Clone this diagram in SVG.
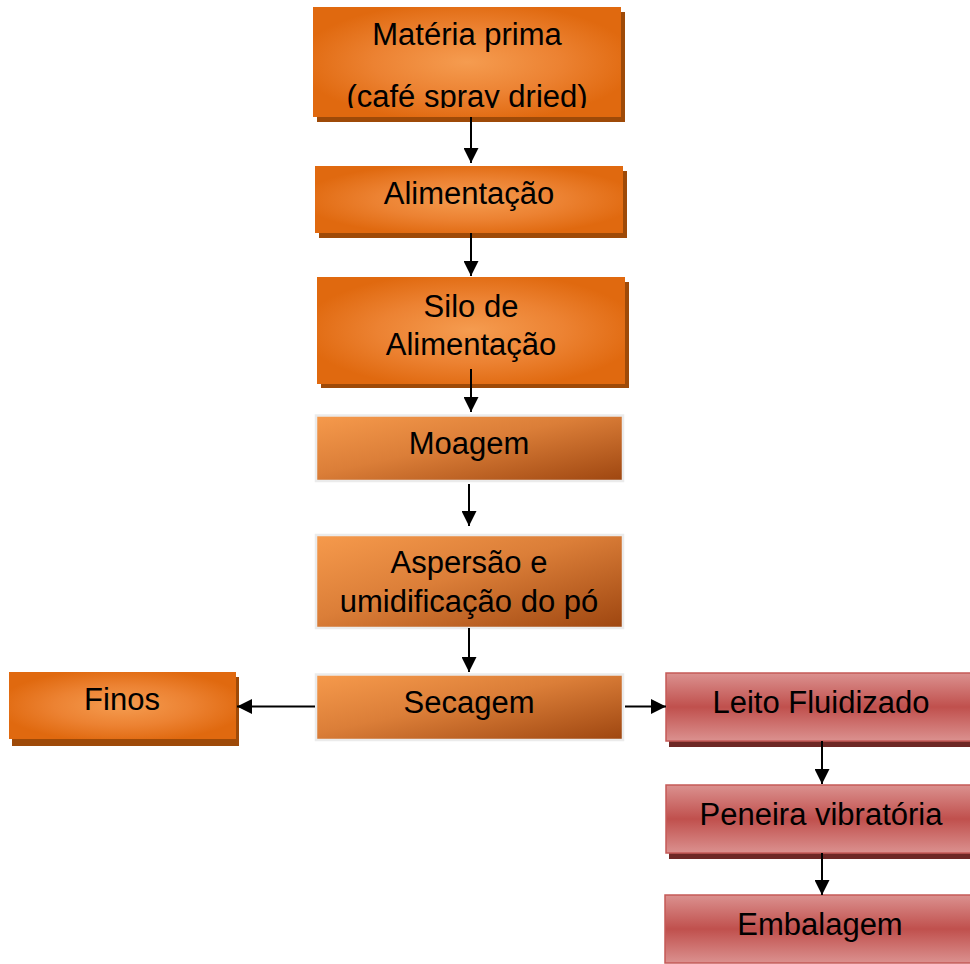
<svg xmlns="http://www.w3.org/2000/svg" width="970" height="964" viewBox="0 0 970 964">
<style>
  text { font-family: "Liberation Sans", Arial, sans-serif; font-size: 31px; fill: #000; text-anchor: middle; }
  .og { fill: url(#orangeRad); }
  .osh { fill: #9E4A08; }
  .br { fill: url(#brownLin); stroke: #EBEBEB; stroke-width: 2.5; }
  .rd { fill: url(#redLin); stroke: #C55A57; stroke-width: 1.5; }
  .rsh { fill: #6E2826; }
  .conn line { stroke: #000; stroke-width: 2; }
</style>
<defs>
  <radialGradient id="orangeRad" cx="50%" cy="50%" r="55%">
    <stop offset="0" stop-color="#F59C50"/>
    <stop offset="0.55" stop-color="#EC8232"/>
    <stop offset="1" stop-color="#E0690F"/>
  </radialGradient>
  <linearGradient id="brownLin" x1="0" y1="0" x2="1" y2="1">
    <stop offset="0" stop-color="#F69A4C"/>
    <stop offset="0.45" stop-color="#DB7E38"/>
    <stop offset="1" stop-color="#9E4610"/>
  </linearGradient>
  <linearGradient id="redLin" x1="0" y1="0" x2="0" y2="1">
    <stop offset="0" stop-color="#DB918F"/>
    <stop offset="0.5" stop-color="#C0504D"/>
    <stop offset="1" stop-color="#DB918F"/>
  </linearGradient>
  <marker id="arr" viewBox="0 0 10 10" refX="10" refY="5" markerWidth="15" markerHeight="15" markerUnits="userSpaceOnUse" orient="auto">
    <path d="M0,0 L10,5 L0,10 z" fill="#000"/>
  </marker>
  <clipPath id="clip1"><rect x="313" y="7" width="308" height="101"/></clipPath>
</defs>

<g id="n-materia">
  <rect class="osh" x="317" y="12" width="308" height="110"/>
  <rect class="og" x="313" y="7" width="308" height="110"/>
  <g clip-path="url(#clip1)">
    <text x="467" y="45">Matéria prima</text>
    <text x="467" y="107">(café spray dried)</text>
  </g>
</g>

<g id="n-alimentacao">
  <rect class="osh" x="319" y="171" width="308" height="67"/>
  <rect class="og" x="315" y="166" width="308" height="67"/>
  <text x="469" y="204">Alimentação</text>
</g>

<g id="n-silo">
  <rect class="osh" x="321" y="282" width="308" height="106"/>
  <rect class="og" x="317" y="277" width="308" height="107"/>
  <text x="471" y="317">Silo de</text>
  <text x="471" y="355">Alimentação</text>
</g>

<g id="n-moagem">
  <rect class="br" x="316" y="415.5" width="307" height="65.5"/>
  <text x="469" y="454">Moagem</text>
</g>

<g id="n-aspersao">
  <rect class="br" x="316" y="535" width="307" height="93"/>
  <text x="469" y="573">Aspersão e</text>
  <text x="469" y="612">umidificação do pó</text>
</g>

<g id="n-secagem">
  <rect class="br" x="316" y="674.5" width="307" height="65.5"/>
  <text x="469" y="713">Secagem</text>
</g>

<g id="n-finos">
  <rect class="osh" x="12" y="677" width="227" height="69"/>
  <rect class="og" x="9" y="672" width="227" height="67"/>
  <text x="122" y="710">Finos</text>
</g>

<g id="n-leito">
  <rect class="rsh" x="669" y="678" width="310" height="69"/>
  <rect class="rd" x="666" y="673" width="310" height="68"/>
  <text x="821" y="713">Leito Fluidizado</text>
</g>

<g id="n-peneira">
  <rect class="rsh" x="669" y="791" width="310" height="68"/>
  <rect class="rd" x="666" y="785" width="310" height="68"/>
  <text x="821" y="825">Peneira vibratória</text>
</g>

<g id="n-embalagem">
  <rect class="rd" x="665" y="895" width="310" height="68"/>
  <text x="820" y="935">Embalagem</text>
</g>

<g class="conn" id="connectors">
  <line x1="471" y1="117" x2="471" y2="163" marker-end="url(#arr)"/>
  <line x1="471" y1="233" x2="471" y2="276" marker-end="url(#arr)"/>
  <line x1="471" y1="369" x2="471" y2="412" marker-end="url(#arr)"/>
  <line x1="469" y1="484" x2="469" y2="526" marker-end="url(#arr)"/>
  <line x1="469" y1="628" x2="469" y2="672" marker-end="url(#arr)"/>
  <line x1="315" y1="706.5" x2="237" y2="706.5" marker-end="url(#arr)"/>
  <line x1="625" y1="706.5" x2="666" y2="706.5" marker-end="url(#arr)"/>
  <line x1="822" y1="741" x2="822" y2="784" marker-end="url(#arr)"/>
  <line x1="822" y1="853" x2="822" y2="895" marker-end="url(#arr)"/>
</g>
</svg>
